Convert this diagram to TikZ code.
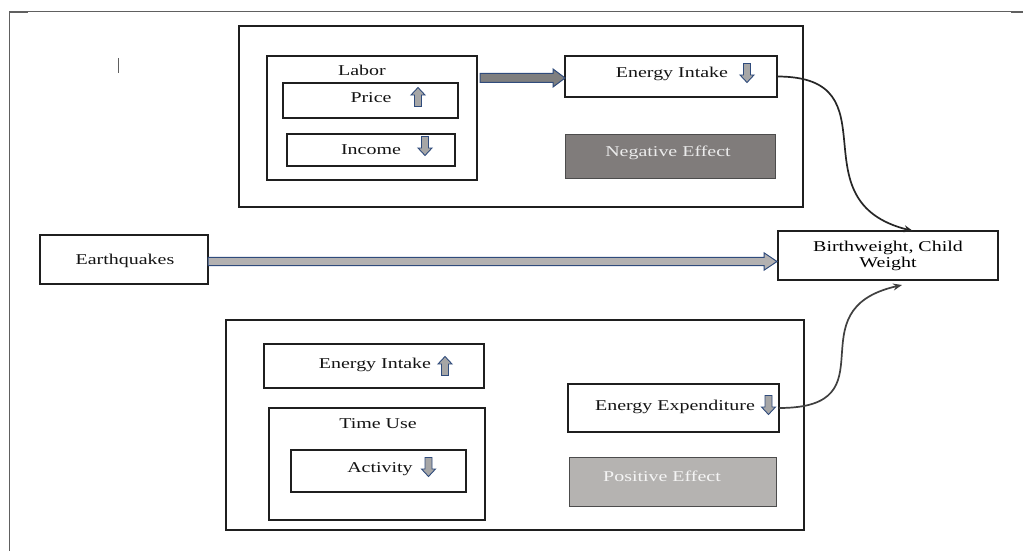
\documentclass[tikz,border=0pt]{standalone}
\usepackage{fontspec}
\setmainfont{Liberation Serif}
\usetikzlibrary{calc,arrows.meta}
\definecolor{frameg}{HTML}{606060}
\definecolor{navy}{HTML}{2F4B7C}
\definecolor{neggray}{HTML}{807C7B}
\definecolor{posgray}{HTML}{B5B3B1}
\definecolor{arrfill}{HTML}{A6A6A6}
\definecolor{darkfill}{HTML}{7F7F7F}
\definecolor{longfill}{HTML}{B3B1B1}
\newcommand\widetxt[1]{\scalebox{1.33}[1]{#1}}
\newcommand\boxat[6]{\node[#1, minimum width={(#4-#2)*1pt}, minimum height={(#5-#3)*1pt}, anchor=north west] (#6) at (#2,#3) {};}
\newcommand\blockarr[6]{\draw[barrow=#1] ($(#2)+(0,-#4)$) -- ($(#3)+(-#6,-#4)$) -- ($(#3)+(-#6,-#5)$) -- (#3) -- ($(#3)+(-#6,#5)$) -- ($(#3)+(-#6,#4)$) -- ($(#2)+(0,#4)$) -- cycle;}
\begin{document}
\begin{tikzpicture}[x=1pt,y=-1pt,
  bx/.style={draw=black!88, line width=1.4pt, fill=white, inner sep=0pt, outer sep=0pt},
  effect/.style={inner sep=0pt, outer sep=0pt, draw=black!70, line width=0.6pt, fill=#1},
  txt/.style={font=\fontsize{15}{16}\selectfont, inner sep=0pt, anchor=base, text=black!92},
  wtxt/.style={txt, text=#1},
  barrow/.style={draw=navy, line width=1pt, fill=#1, line join=miter},
  curve/.style={draw=#1, line width=1.7pt, -{Stealth[length=9pt,width=7pt]}},
  uparr/.pic={\draw[barrow=arrfill, line width=0.9pt] (0,-9.5) -- (7,-2) -- (3.5,-2) -- (3.5,9.5) -- (-3.5,9.5) -- (-3.5,-2) -- (-7,-2) -- cycle;},
  dnarr/.pic={\draw[barrow=arrfill, line width=0.9pt] (0,9.5) -- (7,2) -- (3.5,2) -- (3.5,-9.5) -- (-3.5,-9.5) -- (-3.5,2) -- (-7,2) -- cycle;},
]
\useasboundingbox (0,0) rectangle (1023,551);
% page frame
\draw[frameg, line width=1.3pt] (9.5,551) -- (9.5,11.5) -- (1023,11.5);
\draw[frameg, line width=2.2pt] (9,12) -- (28,12);
\draw[frameg, line width=2.2pt] (1011,12) -- (1023,12);
\draw[frameg, line width=1.2pt] (118.5,58) -- (118.5,73);

% top group
\boxat{bx}{239}{26}{803}{207}{topbox}
\boxat{bx}{267}{56}{477}{180}{labor}
\boxat{bx}{283}{83}{458}{118}{price}
\boxat{bx}{287}{134}{455}{166}{income}
\boxat{bx}{565}{56}{777}{97}{ei1}
\boxat{effect=neggray}{565}{134}{775}{178}{neg}
\node[txt] (laborT) at (362,76) {\widetxt{Labor}};
\node[txt] (priceT) at (371,102.7) {\widetxt{Price}};
\node[txt] (incomeT) at (371,154) {\widetxt{Income}};
\node[txt] (ei1T) at (672,77.3) {\widetxt{Energy Intake}};
\node[wtxt=black!8] (negT) at (668,156.7) {\widetxt{Negative Effect}};
\pic at (418,97) {uparr};
\pic at (425,146) {dnarr};
\pic at (747,73) {dnarr};

% middle
\boxat{bx}{40}{235}{208}{284}{eq}
\node[txt] (eqT) at (125,264) {\widetxt{Earthquakes}};
\node[bx, minimum width=220pt, minimum height=49pt, anchor=north west, align=center,
      font=\fontsize{15}{16}\selectfont] (bw) at (778,231) {\widetxt{Birthweight, Child}\\\widetxt{Weight}};

% bottom group
\boxat{bx}{226}{320}{804}{530}{botbox}
\boxat{bx}{264}{344}{484}{388}{ei2}
\boxat{bx}{269}{408}{485}{520}{timeuse}
\boxat{bx}{291}{450}{466}{492}{activity}
\boxat{bx}{568}{384}{779}{432}{ee}
\boxat{effect=posgray}{569}{457}{776}{506}{pos}
\node[txt] (ei2T) at (375,368) {\widetxt{Energy Intake}};
\node[txt] (timeuseT) at (378,428) {\widetxt{Time Use}};
\node[txt] (activityT) at (380,472.7) {\widetxt{Activity}};
\node[txt] (eeT) at (675,410) {\widetxt{Energy Expenditure}};
\node[wtxt=black!4] (posT) at (662,481.7) {\widetxt{Positive Effect}};
\pic at (445,366) {uparr};
\pic at (428.5,467) {dnarr};
\pic at (768.5,405) {dnarr};

% block arrows
\coordinate (s1) at ($(labor.east |- ei1.west)+(3,1.5)$);
\coordinate (t1) at ($(ei1.west)+(0,1.5)$);
\blockarr{darkfill}{s1}{t1}{4.5}{9}{12}
\coordinate (s2) at ($(eq.east)+(0,2)$);
\coordinate (t2) at ($(bw.west |- eq.east)+(-1,2)$);
\blockarr{longfill}{s2}{t2}{4.2}{8.7}{13}

% curved connectors
\draw[curve=black!85] (ei1.east) .. controls +(120,0) and +(-120,-30) .. ($(bw.north)+(25,0)$);
\draw[curve=black!75] (ee.east) .. controls +(115,0) and +(-110,25) .. ($(bw.south)+(14,5)$);
\end{tikzpicture}
\end{document}
